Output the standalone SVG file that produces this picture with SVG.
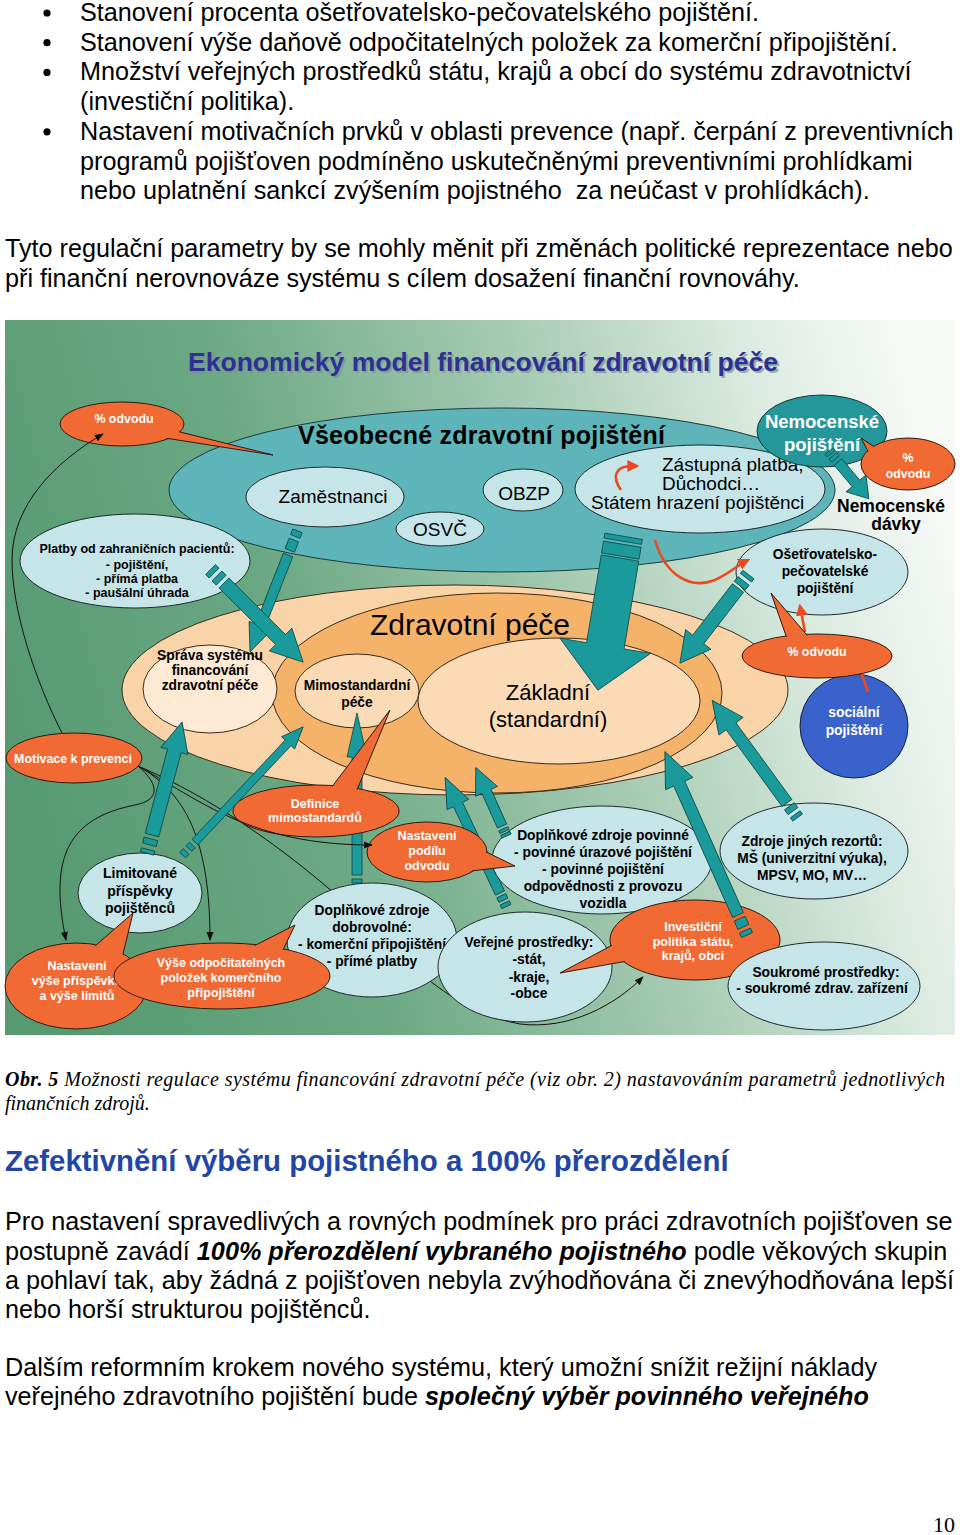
<svg xmlns="http://www.w3.org/2000/svg" width="960" height="1535" viewBox="0 0 960 1535">
<defs>
<linearGradient id="bg" x1="0" y1="0.55" x2="1" y2="0.35">
<stop offset="0" stop-color="#579a72"/>
<stop offset="0.3" stop-color="#6aa883"/>
<stop offset="0.62" stop-color="#a8ccb4"/>
<stop offset="0.85" stop-color="#dcebe1"/>
<stop offset="1" stop-color="#f6f9f6"/>
</linearGradient>
<marker id="ak" viewBox="0 0 10 10" refX="9" refY="5" markerWidth="9" markerHeight="9" orient="auto" markerUnits="userSpaceOnUse"><path d="M0,1 L10,5 L0,9 z" fill="#111"/></marker>
<marker id="ar" viewBox="0 0 10 10" refX="8" refY="5" markerWidth="12" markerHeight="12" orient="auto" markerUnits="userSpaceOnUse"><path d="M0,0 L10,5 L0,10 z" fill="#ec4a1e"/></marker>
<style>
.bt{font-family:"Liberation Sans",Arial,sans-serif;font-size:25.2px;fill:#000}
.cap{font-family:"Liberation Serif","Times New Roman",serif;font-style:italic;font-size:20px;fill:#000}
.lb{fill:#c5e5e9;stroke:#1e2a2a;stroke-width:1}
.rb{fill:#f26a33;stroke:#2a1a10;stroke-width:1}
.rbf{fill:#f26a33}
.ta{fill:#1a9a9b;stroke:#0e4546;stroke-width:0.8}
.pe{stroke:#3a2a1a;stroke-width:1}
.t{font-family:"Liberation Sans",Arial,sans-serif;text-anchor:middle;fill:#000}
.b{font-weight:bold}
.w{fill:#fff}
.s12{font-size:12.4px}
.s125{font-size:12.5px}
.s14{font-size:13.8px}
.s19{font-size:19px}
.ln{fill:none;stroke:#111;stroke-width:1}
.rl{fill:none;stroke:#ec4a1e;stroke-width:2.6}
</style>
</defs>
<rect width="960" height="1535" fill="#fff"/>

<!-- page text -->
<g id="page-text">
<circle cx="47" cy="13" r="3.6"/>
<circle cx="47" cy="42.7" r="3.6"/>
<circle cx="47" cy="72.4" r="3.6"/>
<circle cx="47" cy="131.8" r="3.6"/>
<text class="bt" x="80" y="21">Stanovení procenta ošetřovatelsko-pečovatelského pojištění.</text>
<text class="bt" x="80" y="50.7">Stanovení výše daňově odpočitatelných položek za komerční připojištění.</text>
<text class="bt" x="80" y="80.4">Množství veřejných prostředků státu, krajů a obcí do systému zdravotnictví</text>
<text class="bt" x="80" y="110.1">(investiční politika).</text>
<text class="bt" x="80" y="139.8">Nastavení motivačních prvků v oblasti prevence (např. čerpání z preventivních</text>
<text class="bt" x="80" y="169.5">programů pojišťoven podmíněno uskutečněnými preventivními prohlídkami</text>
<text class="bt" x="80" y="199.2" xml:space="preserve">nebo uplatnění sankcí zvýšením pojistného  za neúčast v prohlídkách).</text>
<text class="bt" x="5" y="257">Tyto regulační parametry by se mohly měnit při změnách politické reprezentace nebo</text>
<text class="bt" x="5" y="287">při finanční nerovnováze systému s cílem dosažení finanční rovnováhy.</text>
<text class="cap" x="5" y="1086" textLength="940" lengthAdjust="spacing"><tspan font-weight="bold">Obr. 5</tspan> Možnosti regulace systému financování zdravotní péče (viz obr. 2) nastavováním parametrů jednotlivých</text>
<text class="cap" x="5" y="1110">finančních zdrojů.</text>
<text x="5" y="1171" font-family="Liberation Sans, Arial, sans-serif" font-weight="bold" font-size="29.4" fill="#2146a6">Zefektivnění výběru pojistného a 100% přerozdělení</text>
<text class="bt" x="5" y="1230">Pro nastavení spravedlivých a rovných podmínek pro práci zdravotních pojišťoven se</text>
<text class="bt" x="5" y="1260">postupně zavádí <tspan font-weight="bold" font-style="italic">100% přerozdělení vybraného pojistného</tspan> podle věkových skupin</text>
<text class="bt" x="5" y="1289">a pohlaví tak, aby žádná z pojišťoven nebyla zvýhodňována či znevýhodňována lepší</text>
<text class="bt" x="5" y="1318">nebo horší strukturou pojištěnců.</text>
<text class="bt" x="5" y="1376">Dalším reformním krokem nového systému, který umožní snížit režijní náklady</text>
<text class="bt" x="5" y="1405">veřejného zdravotního pojištění bude <tspan font-weight="bold" font-style="italic">společný výběr povinného veřejného</tspan></text>
<text x="955" y="1532" text-anchor="end" font-family="Liberation Serif, Times New Roman, serif" font-size="22">10</text>
</g>

<!-- diagram background + title -->
<rect x="5" y="320" width="950" height="715" fill="url(#bg)"/>
<g id="diagram-title">
<text x="190" y="373" font-family="Liberation Sans, Arial, sans-serif" font-weight="bold" font-size="26.5" fill="#7d8f9a" opacity="0.7" textLength="590">Ekonomický model financování zdravotní péče</text>
<text x="188" y="371" font-family="Liberation Sans, Arial, sans-serif" font-weight="bold" font-size="26.5" fill="#2e3192" textLength="590">Ekonomický model financování zdravotní péče</text>
</g>

<g id="vseobecne-zdravotni-pojisteni">
<ellipse cx="502" cy="490" rx="333" ry="82" fill="#5db4b9" stroke="#1e3a3a" stroke-width="1"/>
<text class="t b" x="298" y="444" style="text-anchor:start;font-size:25px" textLength="367">Všeobecné zdravotní pojištění</text>
</g>
<g id="zamestnanci"><ellipse class="lb" cx="325" cy="497" rx="79" ry="30"/><text class="t s19" x="333" y="503">Zaměstnanci</text></g>
<g id="osvc"><ellipse class="lb" cx="440" cy="529" rx="44" ry="17"/><text class="t s19" x="440" y="536">OSVČ</text></g>
<g id="obzp"><ellipse class="lb" cx="523" cy="490" rx="40" ry="21"/><text class="t s19" x="524" y="500">OBZP</text></g>
<g id="zastupna-platba"><ellipse class="lb" cx="700" cy="489" rx="125" ry="44"/>
<text class="t s19" x="662" y="471" style="text-anchor:start">Zástupná platba,</text>
<text class="t s19" x="662" y="490" style="text-anchor:start">Důchodci…</text>
<text class="t s19" x="591" y="509" style="text-anchor:start">Státem hrazení pojištěnci</text></g>
<g id="nemocenske-pojisteni"><ellipse cx="822" cy="431" rx="65" ry="36" fill="#24979a" stroke="#163838"/>
<text class="t b w" x="822" y="428" style="font-size:18.5px">Nemocenské</text>
<text class="t b w" x="822" y="451" style="font-size:18.5px">pojištění</text></g>

<g id="zdravotni-pece">
<ellipse class="pe" cx="455" cy="690" rx="333" ry="105" fill="#f9d4a8"/>
<ellipse class="pe" cx="497" cy="693" rx="225" ry="100" fill="#f5b36a"/>
<text class="t" x="470" y="635" style="font-size:30px">Zdravotní péče</text>
</g>
<g id="zakladni"><ellipse class="pe" cx="559" cy="701" rx="141" ry="63" fill="#fbdab6"/>
<text class="t" x="548" y="700" style="font-size:22px">Základní</text>
<text class="t" x="548" y="727" style="font-size:22px">(standardní)</text></g>
<g id="mimostandardni"><ellipse class="pe" cx="357" cy="691" rx="62" ry="37" fill="#fbdab6"/>
<text class="t b s14" x="357" y="690">Mimostandardní</text>
<text class="t b s14" x="357" y="707">péče</text></g>
<g id="sprava"><ellipse class="pe" cx="210" cy="689" rx="67" ry="44" fill="#fde9d4"/>
<text class="t b s14" x="210" y="660">Správa systému</text>
<text class="t b s14" x="210" y="675">financování</text>
<text class="t b s14" x="210" y="690">zdravotní péče</text></g>
<g id="platby"><ellipse class="lb" cx="135" cy="561" rx="115" ry="47"/>
<text class="t b s125" x="137" y="553">Platby od zahraničních pacientů:</text>
<text class="t b s125" x="137" y="569">- pojištění,</text>
<text class="t b s125" x="137" y="583">- přímá platba</text>
<text class="t b s125" x="137" y="597">- paušální úhrada</text></g>
<g id="osetrovatelsko"><ellipse class="lb" cx="822" cy="572" rx="86" ry="43"/>
<text class="t b s14" x="825" y="559">Ošetřovatelsko-</text>
<text class="t b s14" x="825" y="576">pečovatelské</text>
<text class="t b s14" x="825" y="593">pojištění</text></g>
<g id="socialni-pojisteni"><ellipse cx="854" cy="726" rx="54" ry="52" fill="#3a62cc" stroke="#1a2040"/>
<text class="t b w s14" x="854" y="717">sociální</text>
<text class="t b w s14" x="854" y="735">pojištění</text></g>

<g id="connectors-back">
<path class="ln" d="M138,766 C230,805 320,875 390,945 C430,985 470,1015 520,1024 C570,1030 615,1005 643,977" marker-end="url(#ak)"/>
<path class="rl" d="M805,632 L800,606" marker-end="url(#ar)"/>
<path class="rl" d="M868,692 L861,672"/>
<g transform="translate(357,875) rotate(-90)"><polygon class="ta" points="0,-5 118,-5 118,-10 162,0 118,10 118,5 0,5"/><rect class="ta" x="-8" y="-5" width="4" height="10"/><rect class="ta" x="-15" y="-5" width="4" height="10"/></g>
<g transform="translate(500,893) rotate(-115.4)"><polygon class="ta" points="0,-5 98,-5 98,-12 128,0 98,12 98,5 0,5"/><rect class="ta" x="-8" y="-5" width="5" height="10"/><rect class="ta" x="-15" y="-5" width="4" height="10"/></g>
</g>

<g id="odvodu-1"><ellipse class="rb" cx="122" cy="424" rx="62" ry="22"/><polygon class="rb" points="172,430 273,455 165,438"/><ellipse class="rbf" cx="122" cy="424" rx="61" ry="21"/>
<text class="t b w s12" x="124" y="423">% odvodu</text></g>
<g id="odvodu-2"><ellipse class="rb" cx="908" cy="464" rx="47" ry="26"/><polygon class="rb" points="882,452 861,438 878,470"/><ellipse class="rbf" cx="908" cy="464" rx="46" ry="25"/>
<text class="t b w s12" x="908" y="462">%</text><text class="t b w s12" x="908" y="478">odvodu</text></g>
<g id="nemocenske-davky"><text class="t b" x="891" y="512" style="font-size:17.5px">Nemocenské</text><text class="t b" x="896" y="530" style="font-size:17.5px">dávky</text></g>
<g id="odvodu-3"><ellipse class="rb" cx="817" cy="656" rx="75" ry="22"/><polygon class="rb" points="790,647 771,593 812,641"/><ellipse class="rbf" cx="817" cy="656" rx="74" ry="21"/>
<text class="t b w s12" x="817" y="656">% odvodu</text></g>
<g id="motivace"><ellipse class="rb" cx="74" cy="758" rx="68" ry="25"/><text class="t b w s12" x="73" y="763">Motivace k prevenci</text></g>
<g id="doplnkove-povinne"><ellipse class="lb" cx="602" cy="860" rx="110" ry="54"/>
<text class="t b s14" x="603" y="840">Doplňkové zdroje povinné</text>
<text class="t b s14" x="603" y="857">- povinné úrazové pojištění</text>
<text class="t b s14" x="603" y="874">- povinné pojištění</text>
<text class="t b s14" x="603" y="891">odpovědnosti z provozu</text>
<text class="t b s14" x="603" y="908">vozidla</text></g>
<g id="nastaveni-podilu"><ellipse class="rb" cx="427" cy="852" rx="60" ry="30"/><polygon class="rb" points="472,845 515,866 462,872"/><ellipse class="rbf" cx="427" cy="852" rx="59" ry="29"/>
<text class="t b w s125" x="427" y="840">Nastavení</text><text class="t b w s125" x="427" y="855">podílu</text><text class="t b w s125" x="427" y="870">odvodu</text></g>
<g id="definice"><ellipse class="rb" cx="316" cy="811" rx="83" ry="26"/><polygon class="rb" points="322,800 390,710 352,802"/><ellipse class="rbf" cx="316" cy="811" rx="82" ry="25"/>
<text class="t b w s125" x="315" y="808">Definice</text><text class="t b w s125" x="315" y="822">mimostandardů</text></g>
<g id="zdroje-jinych"><ellipse class="lb" cx="814" cy="851" rx="94" ry="48"/>
<text class="t b s14" x="812" y="846">Zdroje jiných rezortů:</text>
<text class="t b s14" x="812" y="863">MŠ (univerzitní výuka),</text>
<text class="t b s14" x="812" y="880">MPSV, MO, MV…</text></g>
<g id="doplnkove-dobrovolne"><ellipse class="lb" cx="372" cy="940" rx="85" ry="57"/>
<text class="t b s14" x="372" y="915">Doplňkové zdroje</text>
<text class="t b s14" x="372" y="932">dobrovolné:</text>
<text class="t b s14" x="372" y="949">- komerční připojištění</text>
<text class="t b s14" x="372" y="966">- přímé platby</text></g>
<g id="verejne"><ellipse class="lb" cx="525" cy="967" rx="87" ry="55"/>
<text class="t b s14" x="529" y="947">Veřejné prostředky:</text>
<text class="t b s14" x="529" y="964">-stát,</text>
<text class="t b s14" x="529" y="982">-kraje,</text>
<text class="t b s14" x="529" y="998">-obce</text></g>
<g id="investicni"><ellipse class="rb" cx="695" cy="940" rx="85" ry="40"/><polygon class="rb" points="650,925 560,973 650,957"/><ellipse class="rbf" cx="695" cy="940" rx="84" ry="39"/>
<text class="t b w s125" x="693" y="931">Investiční</text><text class="t b w s125" x="693" y="946">politika státu,</text><text class="t b w s125" x="693" y="960">krajů, obci</text></g>
<g id="soukrome"><ellipse class="lb" cx="824" cy="986" rx="96" ry="44"/>
<text class="t b s14" x="826" y="977">Soukromé prostředky:</text>
<text class="t b s14" x="822" y="993">- soukromé zdrav. zařízení</text></g>
<g id="limitovane"><ellipse class="lb" cx="140" cy="893" rx="62" ry="40"/>
<text class="t b" x="140" y="878" style="font-size:14px">Limitované</text>
<text class="t b" x="140" y="896" style="font-size:14px">příspěvky</text>
<text class="t b" x="140" y="913" style="font-size:14px">pojištěnců</text></g>
<g id="nastaveni-vyse"><ellipse class="rb" cx="76" cy="986" rx="71" ry="43"/><polygon class="rb" points="95,946 133,913 122,958"/><ellipse class="rbf" cx="76" cy="986" rx="70" ry="42"/>
<text class="t b w s125" x="77" y="970">Nastavení</text><text class="t b w s125" x="77" y="985">výše příspěvků</text><text class="t b w s125" x="77" y="1000">a výše limitů</text></g>
<g id="vyse-odpocitatelnych"><ellipse class="rb" cx="222" cy="976" rx="108" ry="33"/><polygon class="rb" points="250,948 295,925 280,956"/><ellipse class="rbf" cx="222" cy="976" rx="107" ry="32"/>
<text class="t b w s125" x="221" y="967">Výše odpočitatelných</text><text class="t b w s125" x="221" y="982">položek komerčního</text><text class="t b w s125" x="221" y="997">připojištění</text></g>

<g id="connectors">
<path class="ln" d="M62,733 C35,680 12,610 12,560 C12,505 55,462 103,434" marker-end="url(#ak)"/>
<path class="ln" d="M138,766 C160,785 160,800 135,805 C70,818 48,855 66,940" marker-end="url(#ak)"/>
<path class="ln" d="M138,766 C180,790 210,830 210,940" marker-end="url(#ak)"/>
<path class="ln" d="M138,766 C200,800 250,845 372,845" marker-end="url(#ak)"/>
<path class="rl" d="M621,490 C611,476 616,466 632,466 L637,466" marker-end="url(#ar)"/>
<path class="rl" d="M655,540 C665,575 690,590 715,580 C730,573 738,565 748,560" marker-end="url(#ar)"/>
<g transform="translate(288,555) rotate(111.4)"><polygon class="ta" points="0,-5 76,-5 76,-12 104,0 76,12 76,5 0,5"/><rect class="ta" x="-16" y="-5" width="11" height="10"/><rect class="ta" x="-26" y="-5" width="6" height="10"/></g>
<g transform="translate(224,583) rotate(45)"><polygon class="ta" points="0,-7 80,-7 80,-16 112,0 80,16 80,7 0,7"/><rect class="ta" x="-10" y="-7" width="6" height="14"/><rect class="ta" x="-19" y="-7" width="5" height="14"/></g>
<g transform="translate(738,588) rotate(127.7)"><polygon class="ta" points="0,-7 65,-7 65,-16 95,0 65,16 65,7 0,7"/><rect class="ta" x="-9" y="-7" width="6" height="14"/><rect class="ta" x="-17" y="-7" width="4" height="14"/></g>
<g transform="translate(152,835) rotate(-75.1)"><polygon class="ta" points="0,-7 87,-7 87,-14 117,0 87,14 87,7 0,7"/><rect class="ta" x="-10" y="-7" width="6" height="14"/><rect class="ta" x="-19" y="-7" width="4" height="14"/></g>
<g transform="translate(195,842) rotate(-46.8)"><polygon class="ta" points="0,-4 136,-4 136,-9 158,0 136,9 136,4 0,4"/><rect class="ta" x="-9" y="-4" width="5" height="8"/><rect class="ta" x="-18" y="-4" width="5" height="8"/></g>
<g transform="translate(502,826) rotate(-114.1)"><polygon class="ta" points="0,-5 38,-5 38,-12 64,0 38,12 38,5 0,5"/><rect class="ta" x="-6" y="-5" width="3" height="10"/><rect class="ta" x="-11" y="-5" width="3" height="10"/></g>
<g transform="translate(738,915) rotate(-114.1)"><polygon class="ta" points="0,-6 144,-6 144,-15 179,0 144,15 144,6 0,6"/><rect class="ta" x="-13" y="-6" width="9" height="12"/><rect class="ta" x="-22" y="-6" width="5" height="12"/></g>
<g transform="translate(787,803) rotate(-126.1)"><polygon class="ta" points="0,-6 95,-6 95,-15 127,0 95,15 95,6 0,6"/><rect class="ta" x="-10" y="-6" width="6" height="12"/><rect class="ta" x="-18" y="-6" width="4" height="12"/></g>
<g transform="translate(838,462) rotate(50)"><polygon class="ta" points="0,-5 28,-5 28,-13 48,0 28,13 28,5 0,5"/><rect class="ta" x="-8" y="-5" width="4" height="10"/><rect class="ta" x="-14" y="-5" width="3" height="10"/></g>
<g transform="translate(620,558) rotate(99.5)"><polygon class="ta" points="0,-19 89,-19 89,-46 134,0 89,46 89,19 0,19"/><rect class="ta" x="-14" y="-19" width="12" height="38"/><rect class="ta" x="-22" y="-19" width="5" height="38"/></g>
</g>
</svg>
